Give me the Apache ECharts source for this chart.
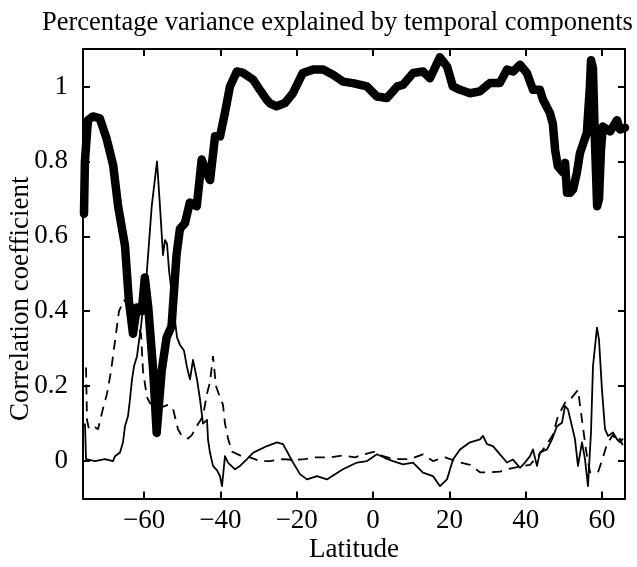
<!DOCTYPE html>
<html>
<head>
<meta charset="utf-8">
<script src="https://cdn.jsdelivr.net/npm/echarts@6/dist/echarts.min.js"></script>
<style>
  html, body { margin: 0; padding: 0; background: #fff; }
  #chart { width: 637px; height: 567px; }
</style>
</head>
<body>
<div id="chart"></div>
<script>
// latitude range and tick labels
const latRange = [-76, 66];
const corrRange = [-0.1, 1.1];
const xTickLabels = [-60, -40, -20, 0, 20, 40, 60];
const yTickLabels = [0, 0.2, 0.4, 0.6, 0.8, 1];

// thick line: first component [latitude, correlation]
const thickLine = [
  [-75.74, 0.66], [-75.5, 0.80], [-74.7, 0.91], [-73.4, 0.92], [-71.6, 0.915], [-69.8, 0.86],
  [-68.1, 0.79], [-66.8, 0.68], [-65.0, 0.575], [-64.0, 0.43], [-62.9, 0.34], [-61.9, 0.41],
  [-60.6, 0.40], [-59.8, 0.49], [-58.9, 0.41], [-57.6, 0.24], [-56.7, 0.075], [-55.4, 0.24],
  [-54.1, 0.33], [-52.8, 0.36], [-51.5, 0.55], [-50.6, 0.62], [-49.3, 0.635], [-48.0, 0.69],
  [-46.2, 0.68], [-44.9, 0.805], [-43.6, 0.77], [-42.7, 0.75], [-41.4, 0.867], [-40.1, 0.867],
  [-38.8, 0.93], [-37.5, 1.0], [-35.7, 1.04], [-34.0, 1.036], [-31.4, 1.018], [-29.6, 0.99],
  [-27.9, 0.965], [-27.0, 0.955], [-25.3, 0.947], [-23.1, 0.956], [-21.0, 0.982], [-18.4, 1.036],
  [-15.7, 1.045], [-13.1, 1.045], [-10.5, 1.031], [-7.9, 1.013], [-5.3, 1.009], [-1.6, 1.0],
  [1.0, 0.973], [3.6, 0.969], [6.3, 1.0], [7.8, 1.004], [10.5, 1.036], [13.1, 1.04],
  [14.9, 1.022], [17.5, 1.078], [19.4, 1.053], [20.9, 1.0], [22.8, 0.991], [25.4, 0.982],
  [28.0, 0.987], [30.6, 1.009], [33.2, 1.009], [35.1, 1.045], [36.7, 1.04], [38.5, 1.058],
  [40.3, 1.036], [41.9, 0.991], [43.7, 0.991], [44.5, 0.965], [46.3, 0.93], [47.1, 0.90],
  [47.7, 0.83], [48.4, 0.787], [49.8, 0.77], [50.3, 0.796], [50.8, 0.716], [51.6, 0.716],
  [52.4, 0.725], [53.4, 0.77], [54.2, 0.822], [56.0, 0.876], [56.8, 1.0], [57.1, 1.07],
  [57.6, 1.05], [58.1, 0.86], [58.7, 0.68], [59.2, 0.70], [59.7, 0.83], [60.2, 0.893],
  [62.1, 0.88], [63.9, 0.91], [64.7, 0.885], [66.0, 0.89]
];

// thin solid line: second component
const thinLine = [
  [-75.48, 0.10], [-75.21, 0.005], [-72.86, 0.0], [-70.24, 0.005], [-68.14, 0.0], [-67.62, 0.013],
  [-66.31, 0.023], [-65.52, 0.05], [-65.0, 0.093], [-64.21, 0.12], [-63.69, 0.165], [-63.16, 0.218],
  [-62.64, 0.253], [-61.85, 0.28], [-61.33, 0.32], [-60.8, 0.36], [-59.31, 0.50], [-58.0, 0.68],
  [-56.61, 0.80], [-55.83, 0.68], [-55.04, 0.55], [-54.52, 0.59], [-53.99, 0.58], [-53.47, 0.51],
  [-52.42, 0.42], [-51.37, 0.33], [-50.59, 0.31], [-49.54, 0.295], [-48.75, 0.25], [-47.97, 0.218],
  [-47.18, 0.27], [-46.13, 0.218], [-45.35, 0.165], [-44.56, 0.10], [-43.51, 0.11], [-43.25, 0.058],
  [-42.73, 0.022], [-41.94, -0.013], [-40.89, -0.025], [-40.11, -0.04], [-39.58, -0.067], [-38.8, 0.013],
  [-38.01, -0.004], [-36.18, -0.022], [-34.87, -0.013], [-33.03, 0.005], [-31.46, 0.022], [-29.63, 0.031],
  [-27.79, 0.04], [-25.17, 0.05], [-23.6, 0.045], [-20.98, -0.004], [-19.15, -0.035], [-17.32, -0.049],
  [-14.7, -0.04], [-12.08, -0.049], [-9.98, -0.035], [-7.88, -0.022], [-4.22, -0.004], [-1.6, 0.0],
  [1.02, 0.018], [3.12, 0.008], [5.22, 0.0], [7.84, -0.009], [10.46, -0.004], [13.07, -0.031],
  [15.69, -0.04], [17.53, -0.067], [19.36, -0.049], [20.93, 0.004], [22.77, 0.031], [25.39, 0.05],
  [28.01, 0.058], [28.79, 0.067], [29.84, 0.045], [31.41, 0.04], [33.25, 0.018], [35.08, -0.004],
  [36.65, 0.004], [38.49, -0.018], [39.8, -0.004], [41.11, 0.013], [41.89, 0.031], [42.94, -0.013],
  [43.73, 0.023], [45.56, 0.031], [46.87, 0.058], [48.18, 0.093], [49.49, 0.102], [50.28, 0.147],
  [51.06, 0.138], [52.11, 0.093], [52.9, 0.058], [53.68, -0.013], [54.73, 0.05], [55.52, 0.005],
  [56.3, -0.067], [57.09, 0.076], [57.61, 0.253], [58.66, 0.356], [59.18, 0.325], [59.97, 0.19],
  [60.76, 0.085], [61.54, 0.067], [62.85, 0.076], [63.9, 0.058], [64.69, 0.05], [65.47, 0.06]
];

// dashed line: third component
const dashedLine = [
  [-75.21, 0.25], [-74.95, 0.11], [-74.43, 0.085], [-72.86, 0.09], [-72.07, 0.085], [-70.76, 0.14],
  [-69.71, 0.18], [-68.66, 0.24], [-67.62, 0.32], [-66.57, 0.40], [-65.26, 0.43], [-63.69, 0.41],
  [-61.85, 0.37], [-60.8, 0.34], [-60.28, 0.24], [-59.23, 0.17], [-58.45, 0.155], [-56.35, 0.14],
  [-53.73, 0.15], [-52.42, 0.14], [-51.11, 0.085], [-50.06, 0.066], [-48.49, 0.06], [-47.44, 0.07],
  [-46.4, 0.09], [-44.56, 0.12], [-43.51, 0.18], [-42.73, 0.21], [-41.94, 0.28], [-41.16, 0.20],
  [-40.11, 0.17], [-39.32, 0.15], [-38.8, 0.10], [-38.01, 0.06], [-36.96, 0.025], [-34.87, 0.015],
  [-32.25, 0.01], [-29.63, 0.0], [-27.01, 0.0], [-23.6, 0.005], [-20.98, 0.003], [-17.84, 0.005],
  [-15.22, 0.01], [-11.29, 0.01], [-7.88, 0.015], [-4.74, 0.01], [-1.6, 0.02], [0.5, 0.025],
  [2.6, 0.013], [5.74, 0.005], [9.67, 0.005], [13.07, 0.018], [15.69, 0.0], [18.84, 0.01],
  [22.77, -0.004], [25.39, -0.01], [28.01, -0.03], [30.63, -0.03], [33.25, -0.028], [35.87, -0.02],
  [38.49, -0.015], [41.11, -0.01], [43.73, 0.02], [45.56, 0.045], [47.13, 0.07], [48.44, 0.12],
  [50.54, 0.16], [52.11, 0.17], [53.68, 0.19], [54.73, 0.11], [55.78, 0.03], [56.83, -0.03],
  [58.92, -0.03], [60.23, 0.01], [61.28, 0.045], [62.85, 0.07], [63.9, 0.05], [64.69, 0.06],
  [65.47, 0.04]
];

const serif = '"Liberation Serif", "DejaVu Serif", serif';
const minus = v => (v < 0 ? '\u2212' + Math.abs(v) : String(v));

const chartDom = document.getElementById('chart');
const myChart = echarts.init(chartDom, null, { renderer: 'canvas' });

const axisLine = { show: true, onZero: false, lineStyle: { color: '#000', width: 2 } };
const axisTick = { show: true, inside: true, length: 7, lineStyle: { color: '#000', width: 2 } };

const option = {
  backgroundColor: '#fff',
  animation: false,
  title: {
    text: 'Percentage variance explained by temporal components',
    left: 37,
    top: 5,
    textStyle: { fontFamily: serif, fontSize: 26.5, fontWeight: 'normal', color: '#000' }
  },
  grid: { left: 83, right: 12, top: 49, bottom: 68.5, outerBoundsMode: 'none', containLabel: false },
  xAxis: [
    {
      type: 'value',
      min: latRange[0],
      max: latRange[1],
      splitNumber: 7,
      name: 'Latitude',
      nameLocation: 'middle',
      nameGap: 38,
      nameMoveOverlap: false,
      nameTextStyle: { fontFamily: serif, fontSize: 27, color: '#000' },
      axisLine: axisLine,
      axisTick: axisTick,
      splitLine: { show: false },
      axisLabel: {
        fontFamily: serif, fontSize: 27, color: '#000', margin: 9,
        formatter: v => (xTickLabels.includes(v) ? minus(v) : '')
      }
    },
    {
      type: 'value',
      position: 'top',
      min: latRange[0],
      max: latRange[1],
      splitNumber: 7,
      axisLine: axisLine,
      axisTick: axisTick,
      splitLine: { show: false },
      axisLabel: { show: false }
    }
  ],
  yAxis: [
    {
      type: 'value',
      min: corrRange[0],
      max: corrRange[1],
      splitNumber: 6,
      name: 'Correlation coefficient',
      nameLocation: 'middle',
      nameGap: 49,
      nameMoveOverlap: false,
      nameTextStyle: { fontFamily: serif, fontSize: 27, color: '#000', padding: [0, 50, 0, 0] },
      axisLine: axisLine,
      axisTick: axisTick,
      splitLine: { show: false },
      axisLabel: {
        fontFamily: serif, fontSize: 27, color: '#000', margin: 15,
        formatter: v => {
          const r = Math.round(v * 10) / 10;
          return yTickLabels.some(t => Math.abs(t - r) < 1e-9) && Math.abs(v - r) < 1e-9 ? String(r) : '';
        }
      }
    },
    {
      type: 'value',
      position: 'right',
      min: corrRange[0],
      max: corrRange[1],
      splitNumber: 6,
      axisLine: axisLine,
      axisTick: axisTick,
      splitLine: { show: false },
      axisLabel: { show: false }
    }
  ],
  series: [
    {
      name: 'component 1',
      type: 'line',
      data: thickLine,
      showSymbol: false,
      clip: true,
      lineStyle: { color: '#000', width: 8.5, join: 'round', cap: 'round' }
    },
    {
      name: 'component 2',
      type: 'line',
      data: thinLine,
      showSymbol: false,
      clip: true,
      lineStyle: { color: '#000', width: 1.8, join: 'round' }
    },
    {
      name: 'component 3',
      type: 'line',
      data: dashedLine,
      showSymbol: false,
      clip: true,
      lineStyle: { color: '#000', width: 1.8, type: [10, 7] }
    }
  ]
};

option && myChart.setOption(option);
</script>
</body>
</html>
